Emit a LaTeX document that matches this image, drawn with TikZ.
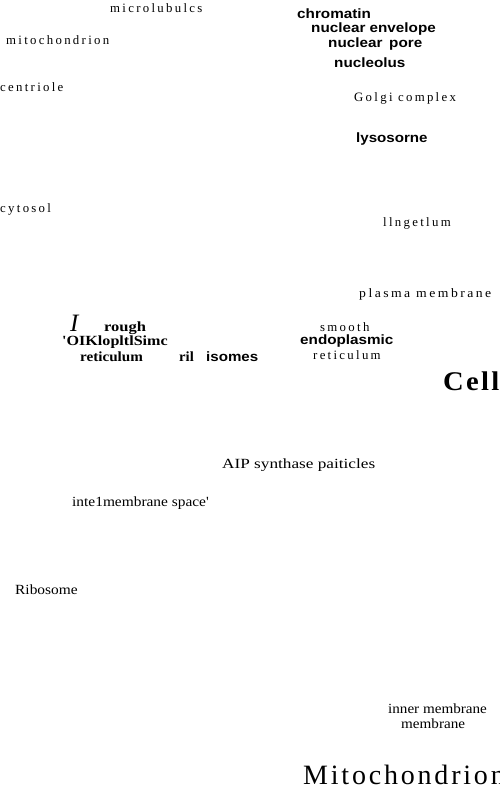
\documentclass[tikz,border=0pt]{standalone}
\usepackage{graphicx}
\usepackage{fontspec}
\setmainfont{Liberation Serif}
\newfontfamily\spaced[LetterSpace=18]{Liberation Serif}
\newfontfamily\spacedlight[LetterSpace=8]{Liberation Serif}
\newfontfamily\spacedmid[LetterSpace=10]{Liberation Serif}
\newfontfamily\arial{Liberation Sans}
\newcommand{\hs}[2]{\scalebox{#1}[1]{#2}}
\begin{document}
\begin{tikzpicture}[x=1pt,y=-1pt,
  lab/.style={inner sep=0pt,anchor=west},
  sp/.style={lab,font=\spaced\fontsize{12.8}{13}\selectfont},
  bs/.style={lab,font=\arial\bfseries\fontsize{13.5}{14}\selectfont},
  tr/.style={lab,font=\fontsize{14}{14}\selectfont},
  bt/.style={lab,font=\bfseries\fontsize{14}{14}\selectfont}]
\useasboundingbox (0,0) rectangle (500,809);
\node[sp] (mt) at (110,8) {microlubulcs};
\node[sp] (mc) at (6,40) {mitochondrion};
\node[sp] (ce) at (0,87) {centriole};
\node[bs] (ch) at (297,14) {\hs{1.13}{chromatin}};
\node[bs] (ne) at (311,29) {\hs{1.13}{nuclear envelope}};
\node[bs] (np) at (328,44) {\hs{1.13}{nuclear\, pore}};
\node[bs] (nu) at (334,63) {\hs{1.13}{nucleolus}};
\node[sp] (go) at (354,98) {Golgi complex};
\node[bs] (ly) at (356,139) {\hs{1.12}{lysosorne}};
\node[sp] (cy) at (0,209) {cytosol};
\node[sp] (fl) at (383,223) {llngetlum};
\node[sp] (pm) at (359,294) {\hs{1.07}{plasma membrane}};
\node[lab,font=\itshape\fontsize{25}{25}\selectfont] (ii) at (70,323) {I};
\node[bt] (ro) at (104,328) {\hs{1.18}{rough}};
\node[bt] (ok) at (62,342) {\hs{1.15}{\textquotesingle OIKlopltlSimc}};
\node[bt] (rr) at (80,357) {\hs{1.08}{reticulum}};
\node[bt] (ri) at (179,357) {\hs{1.05}{ril}};
\node[bs] (is) at (206,357) {\hs{1.12}{isomes}};
\node[sp] (sm) at (320,327) {smooth};
\node[bs] (en) at (300,341) {\hs{1.13}{endoplasmic}};
\node[sp] (re) at (313,355) {reticulum};
\node[lab,font=\spacedlight\bfseries\fontsize{27}{27}\selectfont] (cl) at (443,381) {\hs{1.06}{Cell}};
\node[tr] (at) at (222,465) {\hs{1.23}{AIP synthase paiticles}};
\node[tr] (im) at (72,503) {\hs{1.1}{inte1membrane space\textquotesingle}};
\node[tr] (rb) at (15,590) {\hs{1.1}{Ribosome}};
\node[tr] (in) at (388,709) {\hs{1.08}{inner membrane}};
\node[tr] (me) at (401,724) {\hs{1.08}{membrane}};
\node[lab,font=\spacedmid\fontsize{28}{28}\selectfont] (mi) at (303,775) {Mitochondrion};
\end{tikzpicture}
\end{document}
